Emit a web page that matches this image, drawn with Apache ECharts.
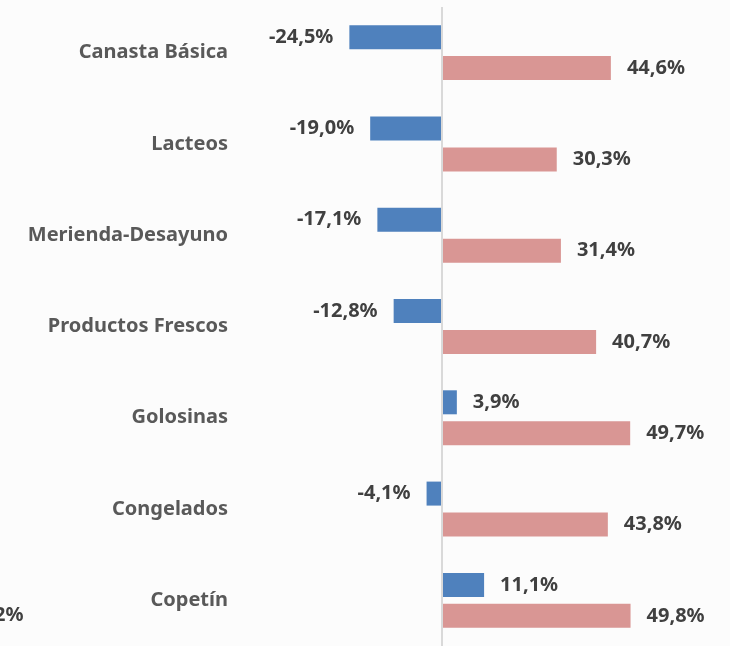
<!DOCTYPE html>
<html>
<head>
<meta charset="utf-8">
<script src="https://cdn.jsdelivr.net/npm/echarts@6/dist/echarts.min.js"></script>
<style>
  html, body { margin: 0; padding: 0; background: #fcfcfc; }
  #chart { width: 730px; height: 646px; }
</style>
</head>
<body>
<div id="chart"></div>
<script>
  const categories = ['Canasta Básica', 'Lacteos', 'Merienda-Desayuno', 'Productos Frescos', 'Golosinas', 'Congelados', 'Copetín']
  const variacion = [-24.5, -19.0, -17.1, -12.8, 3.9, -4.1, 11.1]
  const participacion = [44.6, 30.3, 31.4, 40.7, 49.7, 43.8, 49.8]

  const fmt = v => v.toFixed(1).replace('.', ',') + '%'

  // etiqueta a la izquierda si la barra es negativa
  const withLabels = arr => arr.map(v => ({
    value: v,
    label: { position: v < 0 ? 'left' : 'right' }
  }))

  const labelStyle = {
    show: true,
    distance: 16,
    color: '#404040',
    fontFamily: 'Noto Sans',
    fontWeight: 'bold',
    fontSize: 20,
    padding: [4, 0, 0, 0],
    formatter: p => fmt(p.value)
  }

  const chart = echarts.init(document.getElementById('chart'))

  chart.setOption({
    backgroundColor: '#fcfcfc',
    animation: false,
    grid: {
      left: 240,
      right: 23,
      top: 7,
      bottom: -3
    },
    xAxis: {
      type: 'value',
      min: -53.4,
      max: 70,
      show: false
    },
    yAxis: {
      type: 'category',
      inverse: true,
      data: categories,
      axisLine: { show: false },
      axisTick: { show: false },
      axisLabel: {
        margin: 12,
        color: '#595959',
        fontFamily: 'Noto Sans',
        fontWeight: 'bold',
        fontSize: 20,
        padding: [4, 0, 0, 0]
      }
    },
    graphic: [{
      type: 'text',
      left: -6,
      top: 605,
      style: {
        text: '2%',
        fill: '#404040',
        font: 'bold 20px "Noto Sans"'
      }
    }],
    series: [{
      name: 'Variación',
      type: 'bar',
      barWidth: 24,
      barGap: '29%',
      itemStyle: { color: '#4f81bd' },
      label: labelStyle,
      data: withLabels(variacion),
      markLine: {
        silent: true,
        symbol: 'none',
        label: { show: false },
        lineStyle: { color: '#d9d9d9', type: 'solid', width: 2 },
        data: [{ xAxis: 0 }]
      }
    }, {
      name: 'Participación',
      type: 'bar',
      barWidth: 24,
      itemStyle: { color: '#d99694' },
      label: labelStyle,
      data: withLabels(participacion)
    }]
  })
</script>
</body>
</html>
